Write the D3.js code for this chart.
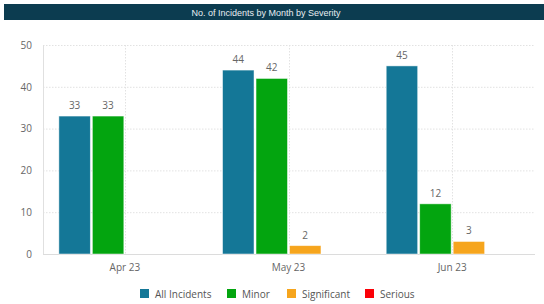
<!DOCTYPE html>
<html>
<head>
<meta charset="utf-8">
<script src="https://cdn.jsdelivr.net/npm/d3@7"></script>
<style>
  body { margin: 0; background: #fff; }
  text { font-family: "Open Sans", sans-serif; }
</style>
</head>
<body>
<svg id="chart" width="544" height="304"></svg>
<script>
var months = ["Apr 23", "May 23", "Jun 23"];
var seriesNames = ["All Incidents", "Minor", "Significant", "Serious"];
var seriesColors = ["#147797", "#03a50f", "#f6a51d", "#fb0007"];
var allIncidents = [33, 44, 45];
var minor = [33, 42, 12];
var significant = [0, 2, 3];
var serious = [0, 0, 0];
var yTicks = [0, 10, 20, 30, 40, 50];

var seriesValues = [allIncidents, minor, significant, serious];

var svg = d3.select("#chart");

// title bar
svg.append("rect")
  .attr("x", 4).attr("y", 4).attr("width", 540).attr("height", 16)
  .attr("fill", "#0c3c50");
svg.append("text")
  .attr("x", 266).attr("y", 15.5)
  .attr("text-anchor", "middle")
  .attr("fill", "#e8eef1")
  .style("font-family", "'Liberation Sans', Arial, sans-serif")
  .style("font-size", "9px")
  .text("No. of Incidents by Month by Severity");

var plotLeft = 43, plotRight = 534, plotTop = 45, plotBottom = 254;

var y = d3.scaleLinear().domain([0, 50]).range([plotBottom, plotTop]);
var x0 = d3.scaleBand().domain(months).range([plotLeft, plotRight])
  .paddingInner(0.194).paddingOuter(0.097);
var x1 = d3.scaleBand().domain(seriesNames).range([0, x0.bandwidth()])
  .paddingInner(0.06);

// horizontal grid
svg.append("g").selectAll("line")
  .data(yTicks.filter(function(d) { return d > 0; }))
  .enter().append("line")
  .attr("x1", plotLeft).attr("x2", plotRight + 1)
  .attr("y1", function(d) { return y(d) + 0.5; })
  .attr("y2", function(d) { return y(d) + 0.5; })
  .attr("stroke", "#e2e2e2")
  .attr("stroke-dasharray", "1.5,1.5");

// vertical grid at category centres
svg.append("g").selectAll("line")
  .data(months)
  .enter().append("line")
  .attr("x1", function(d) { return Math.round(x0(d) + x0.bandwidth() / 2) + 0.5; })
  .attr("x2", function(d) { return Math.round(x0(d) + x0.bandwidth() / 2) + 0.5; })
  .attr("y1", plotTop).attr("y2", plotBottom)
  .attr("stroke", "#e2e2e2")
  .attr("stroke-dasharray", "1.5,1.5");

// axis lines
svg.append("line")
  .attr("x1", plotLeft + 0.5).attr("x2", plotLeft + 0.5)
  .attr("y1", plotTop).attr("y2", plotBottom)
  .attr("stroke", "#e0e0e0");
svg.append("line")
  .attr("x1", plotLeft).attr("x2", plotRight + 1)
  .attr("y1", plotBottom + 0.5).attr("y2", plotBottom + 0.5)
  .attr("stroke", "#dcdcdc");

// y axis labels
var yAxis = d3.axisLeft(y).tickValues(yTicks).tickSize(0).tickPadding(11);
svg.append("g")
  .attr("transform", "translate(" + plotLeft + ",0)")
  .call(yAxis)
  .call(function(g) { g.select(".domain").remove(); })
  .selectAll("text")
  .attr("fill", "#666")
  .style("font-family", "'Open Sans', sans-serif")
  .style("font-size", "10px");

// x axis labels
var xAxis = d3.axisBottom(x0).tickSize(0).tickPadding(10);
svg.append("g")
  .attr("transform", "translate(0," + plotBottom + ")")
  .call(xAxis)
  .call(function(g) { g.select(".domain").remove(); })
  .selectAll("text")
  .attr("fill", "#666")
  .style("font-family", "'Open Sans', sans-serif")
  .style("font-size", "10px");

// bars
var groups = svg.append("g").selectAll("g")
  .data(months)
  .enter().append("g")
  .attr("transform", function(d) { return "translate(" + x0(d) + ",0)"; });

var cells = groups.selectAll("g")
  .data(function(m, mi) {
    return seriesNames.map(function(s, si) {
      return { series: s, idx: si, value: seriesValues[si][mi] };
    });
  })
  .enter();

cells.append("rect")
  .filter(function(d) { return d.value > 0; })
  .attr("x", function(d) { return x1(d.series); })
  .attr("y", function(d) { return y(d.value); })
  .attr("width", x1.bandwidth())
  .attr("height", function(d) { return plotBottom - y(d.value); })
  .attr("fill", function(d) { return seriesColors[d.idx]; })
  .attr("stroke", "#ffffff")
  .attr("stroke-opacity", 0.6)
  .attr("stroke-width", 0.8);

cells.append("text")
  .filter(function(d) { return d.value > 0; })
  .attr("x", function(d) { return x1(d.series) + x1.bandwidth() / 2; })
  .attr("y", function(d) { return y(d.value) - 7; })
  .attr("text-anchor", "middle")
  .attr("fill", "#666")
  .style("font-size", "10px")
  .text(function(d) { return d.value; });

// legend
var legendX = [140, 227, 287, 365];
var legend = svg.append("g").selectAll("g")
  .data(seriesNames)
  .enter().append("g")
  .attr("transform", function(d, i) { return "translate(" + legendX[i] + ",289)"; });
legend.append("rect")
  .attr("width", 9).attr("height", 9)
  .attr("fill", function(d, i) { return seriesColors[i]; });
legend.append("text")
  .attr("x", 15).attr("y", 8.5)
  .attr("fill", "#555")
  .style("font-size", "10px")
  .text(function(d) { return d; });
</script>
</body>
</html>
